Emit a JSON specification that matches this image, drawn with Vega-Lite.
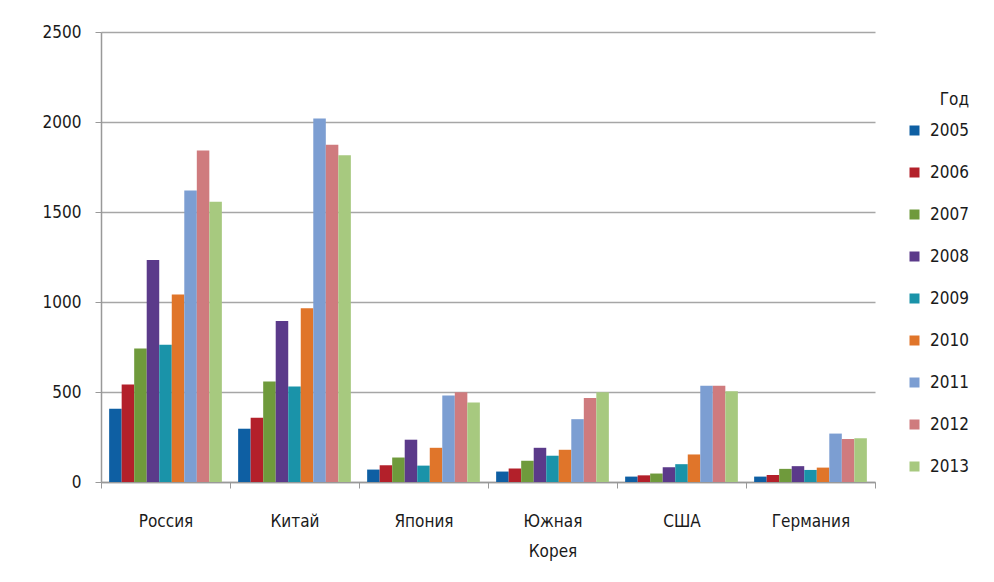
{
  "$schema": "https://vega.github.io/schema/vega-lite/v6.json",
  "width": 774,
  "height": 450,
  "autosize": {"type": "none"},
  "padding": {"left": 101, "top": 32, "right": 119, "bottom": 100},
  "background": "white",
  "config": {
    "font": "Liberation Sans Narrow, DejaVu Sans Condensed, Roboto, sans-serif",
    "view": {"stroke": null},
    "axis": {"labelFont": "Liberation Sans Narrow, DejaVu Sans Condensed, Roboto, sans-serif", "labelColor": "#1a1a1a"},
    "legend": {"labelFont": "Liberation Sans Narrow, DejaVu Sans Condensed, Roboto, sans-serif", "titleFont": "Liberation Sans Narrow, DejaVu Sans Condensed, Roboto, sans-serif"}
  },
  "data": {
    "values": [
      {"country": "Россия", "year": "2005", "value": 407},
      {"country": "Россия", "year": "2006", "value": 541},
      {"country": "Россия", "year": "2007", "value": 741},
      {"country": "Россия", "year": "2008", "value": 1233},
      {"country": "Россия", "year": "2009", "value": 763},
      {"country": "Россия", "year": "2010", "value": 1041},
      {"country": "Россия", "year": "2011", "value": 1620},
      {"country": "Россия", "year": "2012", "value": 1841},
      {"country": "Россия", "year": "2013", "value": 1557},
      {"country": "Китай", "year": "2005", "value": 296},
      {"country": "Китай", "year": "2006", "value": 357},
      {"country": "Китай", "year": "2007", "value": 559},
      {"country": "Китай", "year": "2008", "value": 894},
      {"country": "Китай", "year": "2009", "value": 531},
      {"country": "Китай", "year": "2010", "value": 965},
      {"country": "Китай", "year": "2011", "value": 2019},
      {"country": "Китай", "year": "2012", "value": 1874},
      {"country": "Китай", "year": "2013", "value": 1815},
      {"country": "Япония", "year": "2005", "value": 69},
      {"country": "Япония", "year": "2006", "value": 93},
      {"country": "Япония", "year": "2007", "value": 136},
      {"country": "Япония", "year": "2008", "value": 235},
      {"country": "Япония", "year": "2009", "value": 91},
      {"country": "Япония", "year": "2010", "value": 190},
      {"country": "Япония", "year": "2011", "value": 481},
      {"country": "Япония", "year": "2012", "value": 498},
      {"country": "Япония", "year": "2013", "value": 442},
      {"country": "Южная Корея", "year": "2005", "value": 58},
      {"country": "Южная Корея", "year": "2006", "value": 75},
      {"country": "Южная Корея", "year": "2007", "value": 118},
      {"country": "Южная Корея", "year": "2008", "value": 190},
      {"country": "Южная Корея", "year": "2009", "value": 146},
      {"country": "Южная Корея", "year": "2010", "value": 179},
      {"country": "Южная Корея", "year": "2011", "value": 349},
      {"country": "Южная Корея", "year": "2012", "value": 466},
      {"country": "Южная Корея", "year": "2013", "value": 498},
      {"country": "США", "year": "2005", "value": 30},
      {"country": "США", "year": "2006", "value": 37},
      {"country": "США", "year": "2007", "value": 47},
      {"country": "США", "year": "2008", "value": 82},
      {"country": "США", "year": "2009", "value": 99},
      {"country": "США", "year": "2010", "value": 153},
      {"country": "США", "year": "2011", "value": 535},
      {"country": "США", "year": "2012", "value": 535},
      {"country": "США", "year": "2013", "value": 504},
      {"country": "Германия", "year": "2005", "value": 30},
      {"country": "Германия", "year": "2006", "value": 39},
      {"country": "Германия", "year": "2007", "value": 73},
      {"country": "Германия", "year": "2008", "value": 88},
      {"country": "Германия", "year": "2009", "value": 67},
      {"country": "Германия", "year": "2010", "value": 80},
      {"country": "Германия", "year": "2011", "value": 269},
      {"country": "Германия", "year": "2012", "value": 239},
      {"country": "Германия", "year": "2013", "value": 243}
    ]
  },
  "mark": {"type": "bar"},
  "encoding": {
    "x": {
      "field": "country",
      "type": "nominal",
      "sort": null,
      "scale": {"paddingInner": 0, "paddingOuter": 0},
      "axis": {
        "title": null,
        "labelAngle": 0,
        "labelFontSize": 17,
        "labelPadding": 25,
        "labelLineHeight": 30,
        "labelExpr": "datum.label == 'Южная Корея' ? ['Южная', 'Корея'] : datum.label",
        "tickBand": "extent",
        "tickSize": 6,
        "tickColor": "#999999",
        "domainColor": "#999999",
        "domainWidth": 1.5,
        "grid": false
      }
    },
    "xOffset": {
      "field": "year",
      "type": "nominal",
      "scale": {"paddingInner": 0, "paddingOuter": 0.65}
    },
    "y": {
      "field": "value",
      "type": "quantitative",
      "scale": {"domain": [0, 2500], "nice": false},
      "axis": {
        "title": null,
        "values": [0, 500, 1000, 1500, 2000, 2500],
        "format": "d",
        "labelFontSize": 17,
        "labelPadding": 14,
        "tickSize": 6,
        "tickColor": "#999999",
        "domainColor": "#999999",
        "domainWidth": 1.5,
        "gridColor": "#a6a6a6",
        "gridWidth": 1.5
      }
    },
    "color": {
      "field": "year",
      "type": "nominal",
      "scale": {
        "domain": ["2005", "2006", "2007", "2008", "2009", "2010", "2011", "2012", "2013"],
        "range": ["#0E5FA3", "#B3202A", "#6F9A3C", "#5B3A8A", "#1A93A9", "#E0752A", "#7C9ED2", "#CF7B7E", "#A7C97F"]
      },
      "legend": {
        "title": "Год",
        "orient": "none",
        "legendX": 805,
        "legendY": 60,
        "titleFontSize": 17,
        "titleFontWeight": "normal",
        "titleColor": "#1a1a1a",
        "titleAnchor": "end",
        "titlePadding": 13,
        "labelFontSize": 17,
        "labelColor": "#1a1a1a",
        "labelOffset": 7,
        "symbolType": "square",
        "symbolSize": 100,
        "symbolStrokeWidth": 0,
        "rowPadding": 24
      }
    }
  }
}
